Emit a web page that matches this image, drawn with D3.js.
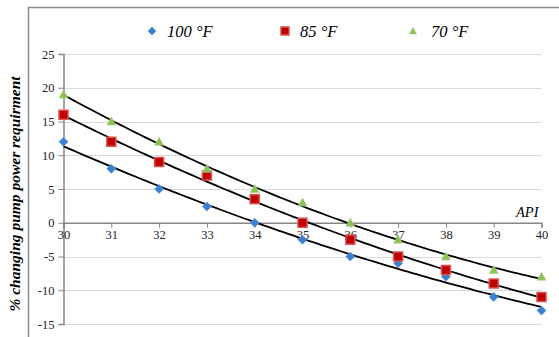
<!DOCTYPE html>
<html><head><meta charset="utf-8">
<script src="https://cdn.jsdelivr.net/npm/d3@7"></script>
<style>
html,body{margin:0;background:#fff;font-family:"Liberation Serif","Times New Roman",serif;}
svg{display:block}
svg text, svg .tick text{font-family:"Liberation Serif","Times New Roman",serif !important;}
</style>
</head><body>
<script>
const api = [30,31,32,33,34,35,36,37,38,39,40];
const f100 = [12,8,5,2.4,0,-2.5,-5,-6,-8,-11,-13];
const f85 = [16,12,9,7,3.5,0,-2.5,-5,-7,-9,-11];
const f70 = [19,15,12,8,5,3,0,-2.5,-5,-7,-8];
const seriesNames = ["100 °F","85 °F","70 °F"];
const yTicks = [25,20,15,10,5,0,-5,-10,-15];
const xTicks = [30,31,32,33,34,35,36,37,38,39,40];

const W=559,H=337;
const svg=d3.select("body").append("svg").attr("width",W).attr("height",H);
svg.append("rect").attr("width",W).attr("height",H).attr("fill","#fff");
svg.append("path").attr("d",`M28.5,${H} L28.5,7.5 L${W},7.5`).attr("fill","none").attr("stroke","#8c8c8c").attr("stroke-width",1.5);

const x=d3.scaleLinear().domain([30,40]).range([63.5,541.5]);
const y=d3.scaleLinear().domain([-15,25]).range([324,54]);

svg.append("g").selectAll("line").data(yTicks).join("line")
 .attr("x1",x(30)).attr("x2",x(40)).attr("y1",d=>Math.round(y(d))+0.5).attr("y2",d=>Math.round(y(d))+0.5)
 .attr("stroke","#d9d9d9").attr("stroke-width",1);

const ya=svg.append("g").attr("transform",`translate(${x(30)},0)`)
 .call(d3.axisLeft(y).tickValues(yTicks).tickSize(5).tickPadding(4).tickFormat(d=>d<0?"-"+Math.abs(d):d));
ya.attr("font-family",null).attr("font-size",null);
ya.select(".domain").attr("stroke","#868686").attr("stroke-width",1.5);
ya.selectAll(".tick line").attr("stroke","#868686");
ya.selectAll("text").style("font-size","12.5px").attr("fill","#222");

const xa=svg.append("g").attr("transform",`translate(0,${y(0)})`)
 .call(d3.axisBottom(x).tickValues(xTicks).tickSize(5).tickPadding(2).tickFormat(d3.format("d")));
xa.attr("font-family",null).attr("font-size",null);
xa.select(".domain").attr("stroke","#868686").attr("stroke-width",1.5);
xa.selectAll(".tick line").attr("stroke","#868686");
xa.selectAll("text").style("font-size","12.5px").attr("fill","#222");

svg.append("text").attr("x",x(40)-3).attr("y",y(0)-6).attr("text-anchor","end")
 .style("font-style","italic").style("font-size","14.5px").text("API");

svg.append("text").attr("transform",`translate(20,194) rotate(-90)`).attr("text-anchor","middle")
 .style("font-style","italic").style("font-weight","bold").style("font-size","15.5px")
 .text("% changing pump power requirment");

function polyfit(xs,ys){
  let s=[0,0,0,0,0], t=[0,0,0];
  xs.forEach((xv,i)=>{const u=xv-35;for(let k=0;k<5;k++)s[k]+=Math.pow(u,k);for(let k=0;k<3;k++)t[k]+=Math.pow(u,k)*ys[i];});
  const A=[[s[0],s[1],s[2],t[0]],[s[1],s[2],s[3],t[1]],[s[2],s[3],s[4],t[2]]];
  for(let i=0;i<3;i++){for(let j=i+1;j<3;j++){const f=A[j][i]/A[i][i];for(let k=i;k<4;k++)A[j][k]-=f*A[i][k];}}
  const c=[0,0,0];for(let i=2;i>=0;i--){let v=A[i][3];for(let k=i+1;k<3;k++)v-=A[i][k]*c[k];c[i]=v/A[i][i];}
  return xv=>{const u=xv-35;return c[0]+c[1]*u+c[2]*u*u;};
}
const data=[f100,f85,f70];
const line=d3.line().x(d=>x(d[0])).y(d=>y(d[1]));
const fine=d3.range(30,40.001,0.1);
data.forEach(ys=>{
  const f=polyfit(api,ys);
  svg.append("path").attr("d",line(fine.map(v=>[v,f(v)]))).attr("fill","none").attr("stroke","#000").attr("stroke-width",1.8);
});

const blue="#3c7fcf", redF="#c00000", redS="#d9534f", green="#8cc152";
function diamond(g,cx,cy,r){g.append("path").attr("d",`M${cx},${cy-r}L${cx+r},${cy}L${cx},${cy+r}L${cx-r},${cy}Z`).attr("fill",blue).attr("stroke","#5b9bd5").attr("stroke-width",0.8);}
function square(g,cx,cy,r){g.append("rect").attr("x",cx-r).attr("y",cy-r).attr("width",2*r).attr("height",2*r).attr("fill",redF).attr("stroke",redS).attr("stroke-width",1.5);}
function tri(g,cx,cy,r){g.append("path").attr("d",`M${cx},${cy-r}L${cx+r},${cy+r*0.8}L${cx-r},${cy+r*0.8}Z`).attr("fill",green).attr("stroke","#a9d18e").attr("stroke-width",0.6);}
const mg=svg.append("g");
api.forEach((a,i)=>diamond(mg,x(a),y(f100[i]),4.5));
api.forEach((a,i)=>square(mg,x(a),y(f85[i]),4.5));
api.forEach((a,i)=>tri(mg,x(a),y(f70[i]),4.5));

const lg=svg.append("g");
const ly=31;
diamond(lg,152,ly,4);
square(lg,285,ly,4);
tri(lg,413,ly,3.6);
[[167,0],[300,1],[431,2]].forEach(([lx,i])=>{
  lg.append("text").attr("x",lx).attr("y",ly+5.5).style("font-style","italic").style("font-size","16.5px").text(seriesNames[i]);
});
</script>
</body></html>
